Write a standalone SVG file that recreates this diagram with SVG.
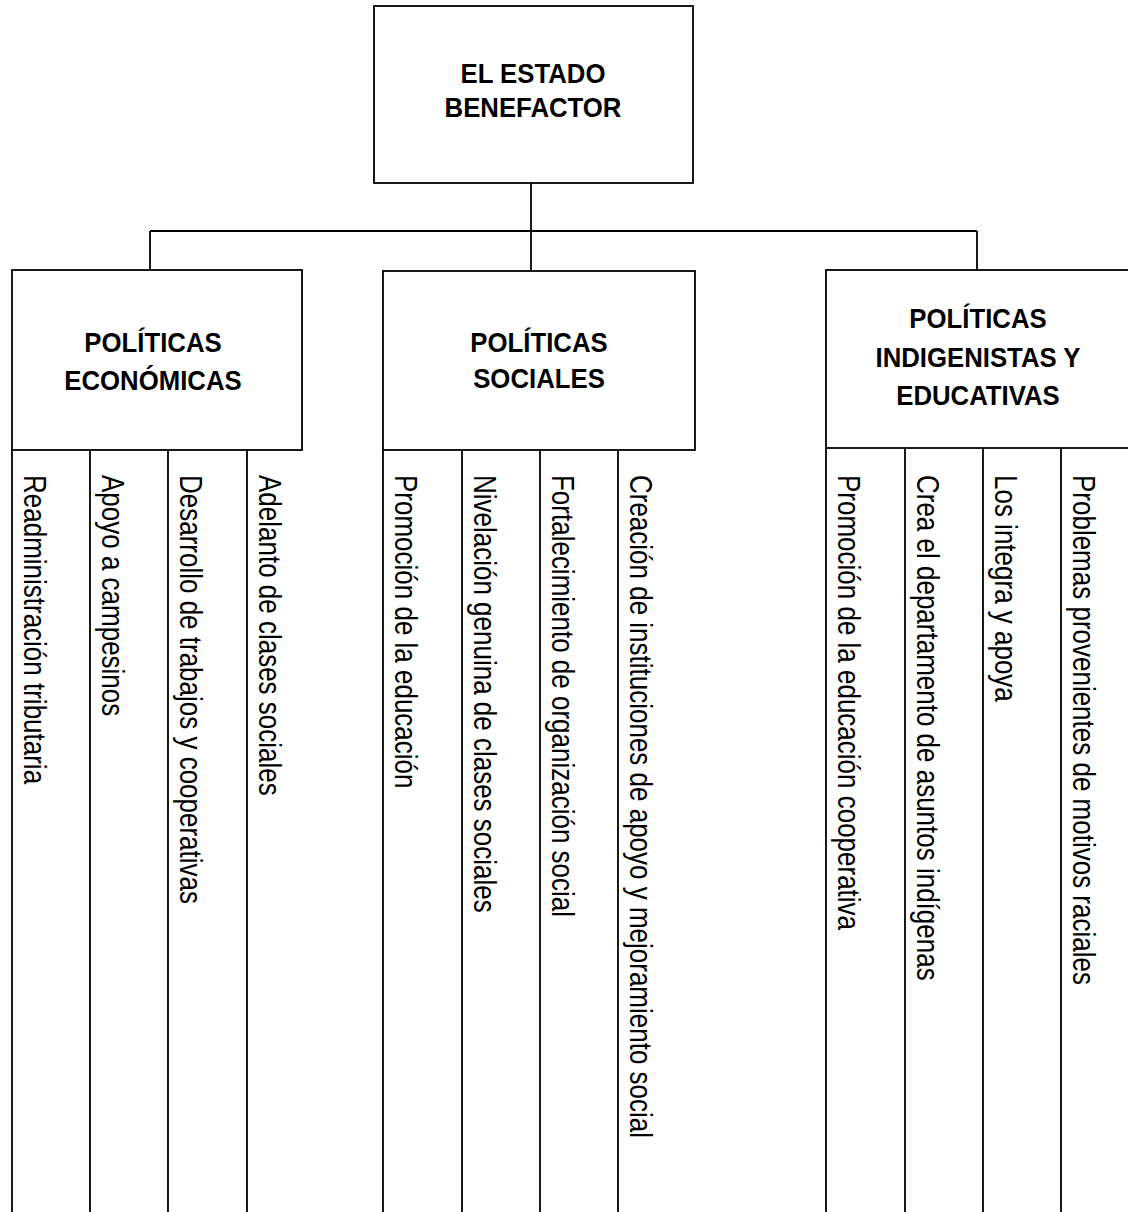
<svg xmlns="http://www.w3.org/2000/svg" width="1128" height="1212" viewBox="0 0 1128 1212">
<style>
.box{fill:#fff;stroke:#000;stroke-width:1.8}
.ln{stroke:#000;stroke-width:1.8;fill:none}
.hd{font-family:"Liberation Sans",Arial,sans-serif;font-weight:bold;font-size:28px;text-anchor:middle;fill:#000}
.leaf{font-family:"Liberation Sans",Arial,sans-serif;font-size:32px;fill:#000}
</style>
<rect width="1128" height="1212" fill="#fff"/>
<g id="connectors">
<line class="ln" x1="531" y1="183" x2="531" y2="271"/>
<line class="ln" x1="150" y1="231" x2="977" y2="231"/>
<line class="ln" x1="150" y1="231" x2="150" y2="270"/>
<line class="ln" x1="977" y1="231" x2="977" y2="270"/>
</g>
<g id="root">
<rect class="box" x="374" y="6" width="319" height="177"/>
<text class="hd" transform="translate(533,83) scale(0.92,1)">EL ESTADO</text>
<text class="hd" transform="translate(533,117) scale(0.92,1)">BENEFACTOR</text>
</g>
<g id="economicas">
<rect class="box" x="12" y="270" width="290" height="180"/>
<text class="hd" transform="translate(153,352) scale(0.92,1)">POLÍTICAS</text>
<text class="hd" transform="translate(153,390) scale(0.92,1)">ECONÓMICAS</text>
</g>
<g id="sociales">
<rect class="box" x="383" y="271" width="312" height="179"/>
<text class="hd" transform="translate(539,352) scale(0.92,1)">POLÍTICAS</text>
<text class="hd" transform="translate(539,388) scale(0.92,1)">SOCIALES</text>
</g>
<g id="indigenistas">
<rect class="box" x="826" y="270" width="320" height="178"/>
<text class="hd" transform="translate(978,328) scale(0.92,1)">POLÍTICAS</text>
<text class="hd" transform="translate(978,367) scale(0.92,1)">INDIGENISTAS Y</text>
<text class="hd" transform="translate(978,405) scale(0.92,1)">EDUCATIVAS</text>
</g>
<g id="leaf-e1"><line class="ln" x1="12" y1="450" x2="12" y2="1212"/><text class="leaf" transform="translate(24,475) rotate(90) scale(0.8125,1)">Readministración tributaria</text></g>
<g id="leaf-e2"><line class="ln" x1="90" y1="450" x2="90" y2="1212"/><text class="leaf" transform="translate(102,475) rotate(90) scale(0.8125,1)">Apoyo a campesinos</text></g>
<g id="leaf-e3"><line class="ln" x1="168" y1="450" x2="168" y2="1212"/><text class="leaf" transform="translate(180,475) rotate(90) scale(0.8125,1)">Desarrollo de trabajos y cooperativas</text></g>
<g id="leaf-e4"><line class="ln" x1="247" y1="450" x2="247" y2="1212"/><text class="leaf" transform="translate(259,475) rotate(90) scale(0.8125,1)">Adelanto de clases sociales</text></g>
<g id="leaf-s1"><line class="ln" x1="383" y1="450" x2="383" y2="1212"/><text class="leaf" transform="translate(395,475) rotate(90) scale(0.8125,1)">Promoción de la educación</text></g>
<g id="leaf-s2"><line class="ln" x1="462" y1="450" x2="462" y2="1212"/><text class="leaf" transform="translate(474,475) rotate(90) scale(0.8125,1)">Nivelación genuina de clases sociales</text></g>
<g id="leaf-s3"><line class="ln" x1="540" y1="450" x2="540" y2="1212"/><text class="leaf" transform="translate(552,475) rotate(90) scale(0.8125,1)">Fortalecimiento de organización social</text></g>
<g id="leaf-s4"><line class="ln" x1="618" y1="450" x2="618" y2="1212"/><text class="leaf" transform="translate(630,475) rotate(90) scale(0.8125,1)">Creación de instituciones de apoyo y mejoramiento social</text></g>
<g id="leaf-i1"><line class="ln" x1="826" y1="448" x2="826" y2="1212"/><text class="leaf" transform="translate(838,475) rotate(90) scale(0.8125,1)">Promoción de la educación cooperativa</text></g>
<g id="leaf-i2"><line class="ln" x1="905" y1="448" x2="905" y2="1212"/><text class="leaf" transform="translate(917,475) rotate(90) scale(0.8125,1)">Crea el departamento de asuntos indígenas</text></g>
<g id="leaf-i3"><line class="ln" x1="983" y1="448" x2="983" y2="1212"/><text class="leaf" transform="translate(995,475) rotate(90) scale(0.8125,1)">Los integra y apoya</text></g>
<g id="leaf-i4"><line class="ln" x1="1061" y1="448" x2="1061" y2="1212"/><text class="leaf" transform="translate(1073,475) rotate(90) scale(0.8125,1)">Problemas provenientes de motivos raciales</text></g>
</svg>
